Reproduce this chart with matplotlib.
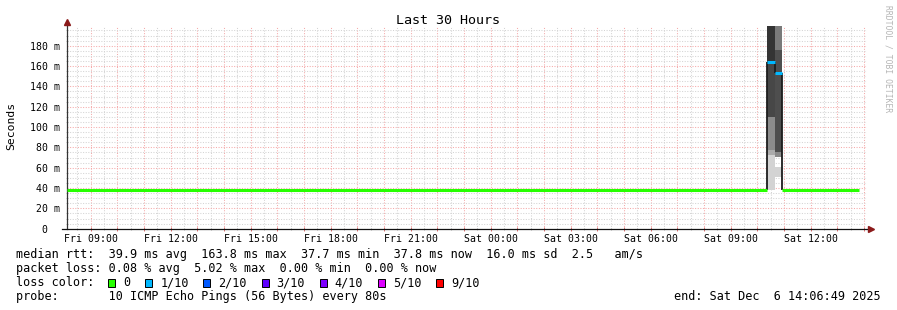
import numpy as np
import matplotlib
matplotlib.use("Agg")
import matplotlib.pyplot as plt
from matplotlib.patches import Rectangle

W, H = 897, 310

# time axis in hours counted from Fri 00:00
t_start = 8 + 6/60 + 49/3600      # Fri 08:06:49
t_end = t_start + 30               # Sat 14:06:49

# median rtt in ms (nan = gap where the spike columns are)
rtt_t = [t_start, 34.35, np.nan, 34.915, 37.81]
rtt_v = [38.0, 38.0, np.nan, 38.0, 38.0]

# the spike: two columns of smoke
col_edges = [34.35, 34.664, 34.915]
col_median = [163.8, 153.5]
col_loss = [1, 1]                  # index into loss colors (1/10)
smoke_lo = [[38.0, 72.5, 77.4, 110.2, 163.8],
            [51.0, 70.8, 75.7, 176.0]]
smoke_hi = [[72.5, 77.4, 110.2, 163.8, 199.4],
            [61.0, 75.7, 176.0, 199.4]]
smoke_shade = [['#d3d3d3', '#ababab', '#8c8c8c', '#474747', '#343434'],
               ['#d3d3d3', '#8a8a8a', '#4e4e4e', '#7a7a7a']]

y_ticks = [0, 20, 40, 60, 80, 100, 120, 140, 160, 180]
y_tick_labels = ['0  ', '20 m', '40 m', '60 m', '80 m', '100 m', '120 m',
                 '140 m', '160 m', '180 m']
x_label_hours = [9, 12, 15, 18, 21, 24, 27, 30, 33, 36]
x_tick_labels = ['Fri 09:00', 'Fri 12:00', 'Fri 15:00', 'Fri 18:00', 'Fri 21:00',
                 'Sat 00:00', 'Sat 03:00', 'Sat 06:00', 'Sat 09:00', 'Sat 12:00']

loss_labels = ['0', '1/10', '2/10', '3/10', '4/10', '5/10', '9/10']
loss_colors = ['#26ff00', '#00b8ff', '#0059ff', '#5e00ff', '#7e00ff', '#dd00ff', '#ff0000']

legend_rows = [
    "median rtt:  39.9 ms avg  163.8 ms max  37.7 ms min  37.8 ms now  16.0 ms sd  2.5   am/s",
    "packet loss: 0.08 % avg  5.02 % max  0.00 % min  0.00 % now",
    "loss color:",
    "probe:       10 ICMP Echo Pings (56 Bytes) every 80s",
]
end_text = "end: Sat Dec  6 14:06:49 2025"

plt.rcParams['font.family'] = ['DejaVu Sans Mono']


def fx(x):
    return x / W


def fy(y):
    return 1 - y / H


fig = plt.figure(figsize=(W/100, H/100), dpi=100)
fig.patch.set_facecolor('white')
ax = fig.add_axes([fx(67), fy(228.7), 800/W, (228.7-26)/H])

# grid
ax.set_xlim(t_start, t_end)
ax.set_ylim(0, 199.4)
ax.set_xticks(np.arange(9, 39, 1))
ax.set_xticks(np.arange(8.5, 38.5, 1), minor=True)
ax.set_xticklabels([x_tick_labels[x_label_hours.index(h)] if h in x_label_hours else ''
                    for h in range(9, 39)])
ax.set_yticks(y_ticks)
ax.set_yticklabels(y_tick_labels)
ax.set_yticks([v for v in np.arange(0, 200, 5) if v % 20], minor=True)
ax.set_axisbelow(True)
ax.grid(which='major', color='#f5aaaa', lw=0.75, ls=(0, (1, 1.5)), snap=True)
ax.grid(which='minor', color='#d4d4d4', lw=0.75, ls=(0, (1, 1.5)), snap=True)
ax.tick_params(which='major', direction='inout', length=3, width=0.7, color='#e07070',
               labelsize=7.1, pad=2.5)
ax.tick_params(which='minor', direction='inout', length=2, width=0.7, color='#bbbbbb')
ax.tick_params(axis='y', which='major', length=0, pad=5)

for s in ['top', 'right']:
    ax.spines[s].set_visible(False)
ax.spines['left'].set_color('#333333')
ax.spines['bottom'].set_color('#111111')
ax.spines['left'].set_bounds(0, 202)
ax.spines['left'].set_linewidth(0.9)
ax.spines['bottom'].set_linewidth(0.9)
ax.spines['bottom'].set_bounds(t_start - 5/26.667, t_start + 802/26.667)

# arrows at the axis ends
ax.plot([t_start], [203], marker='^', ms=4.5, color='#8b1a1a', clip_on=False, zorder=6)
ax.plot([t_start + 804/26.667], [0], marker='>', ms=4.5, color='#8b1a1a', clip_on=False, zorder=6)

# smoke
for i in range(len(col_median)):
    x0, x1 = col_edges[i], col_edges[i+1]
    for lo, hi, c in zip(smoke_lo[i], smoke_hi[i], smoke_shade[i]):
        ax.bar(x0, hi - lo, bottom=lo, width=x1 - x0, align='edge', color=c, lw=0, zorder=2)
    ax.hlines(col_median[i], x0, x1, color=loss_colors[col_loss[i]], lw=2.2, zorder=4)

# transitions of the median line
ax.vlines(col_edges[0], rtt_v[1], col_median[0], color='#1c1c1c', lw=1.3, zorder=3)
ax.vlines(col_edges[1], col_median[1], col_median[0], color='#1c1c1c', lw=1.3, zorder=3)
ax.vlines(col_edges[2], rtt_v[3], col_median[1], color='#1c1c1c', lw=1.3, zorder=3)

ax.plot(rtt_t, rtt_v, color=loss_colors[0], lw=2.2, solid_capstyle='butt', zorder=4)

# texts
fig.text(fx(448), fy(24.5), 'Last 30 Hours', ha='center', va='baseline', fontsize=9.6)
fig.text(fx(11), fy(126), 'Seconds', rotation=90, ha='center', va='center', fontsize=8.2)
fig.text(fx(888), fy(5), 'RRDTOOL / TOBI OETIKER', rotation=270, ha='center', va='top',
         fontsize=5.8, color='#b5b5b5')

for k, row in enumerate(legend_rows):
    fig.text(fx(16), fy(258 + 14*k), row, ha='left', va='baseline', fontsize=8.5)
fig.text(fx(880.5), fy(300), end_text, ha='right', va='baseline', fontsize=8.5)

# loss color swatches
sx = 108.3
for lab, c in zip(loss_labels, loss_colors):
    fig.add_artist(Rectangle((fx(sx), fy(286.5)), 7/W, 8/H, transform=fig.transFigure,
                             facecolor=c, edgecolor='black', lw=0.7))
    fig.text(fx(sx + 15), fy(286), lab, ha='left', va='baseline', fontsize=8.5)
    sx = sx + 15 + len(lab)*7.1 + 14.8

fig.savefig('out.png', dpi=100)
